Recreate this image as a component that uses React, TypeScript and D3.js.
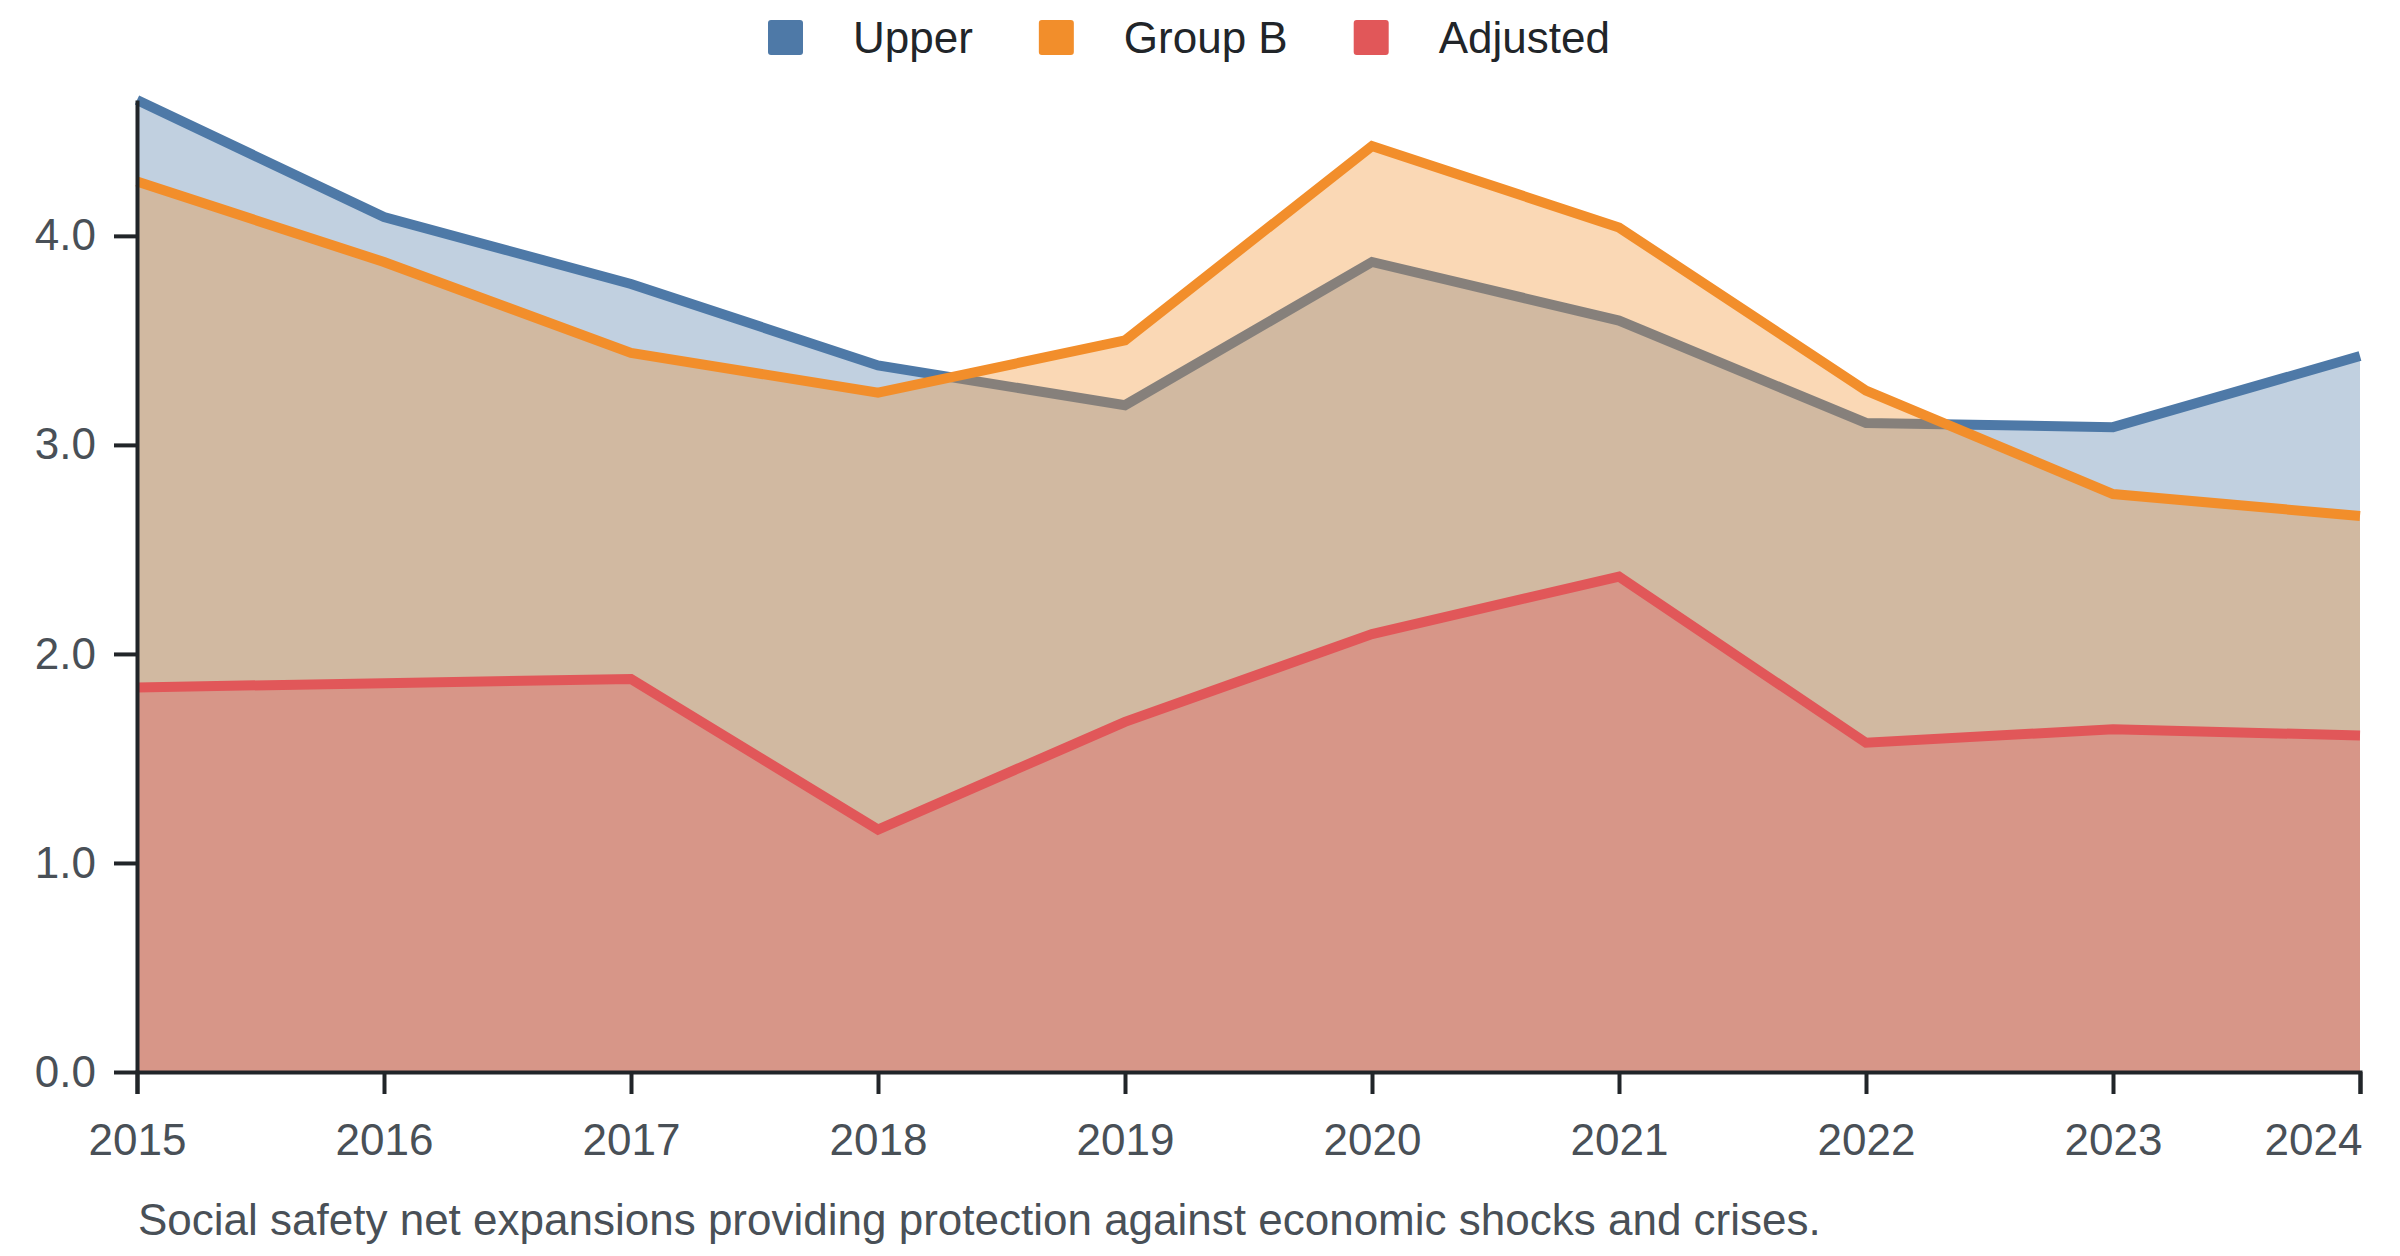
import React, { useEffect, useRef } from "react";
import * as d3 from "d3";

const years = [2015, 2016, 2017, 2018, 2019, 2020, 2021, 2022, 2023, 2024];
const upper = [4.65, 4.09, 3.77, 3.38, 3.19, 3.875, 3.595, 3.105, 3.085, 3.425];
const groupB = [4.26, 3.875, 3.44, 3.25, 3.5, 4.43, 4.04, 3.26, 2.765, 2.66];
const adjusted = [1.84, 1.86, 1.88, 1.16, 1.675, 2.095, 2.37, 1.575, 1.64, 1.61];
const seriesNames = ["Upper", "Group B", "Adjusted"];
const seriesColors = ["#4e79a7", "#f28e2b", "#e15759"];
const yTicks = [0, 1, 2, 3, 4];
const subtitle = "Social safety net expansions providing protection against economic shocks and crises.";

const W = 2400;
const H = 1256;
const M = { top: 100, right: 40, bottom: 184, left: 137 };
const FONT = "'Liberation Sans', Arial, sans-serif";
const FS = 44;

export default function App() {
  const ref = useRef<SVGSVGElement | null>(null);

  useEffect(() => {
    const svg = d3.select(ref.current);
    svg.selectAll("*").remove();

    const allSeries = [upper, groupB, adjusted];
    const maxV = d3.max(allSeries.flat()) as number;

    const x = d3.scaleLinear().domain([years[0], years[years.length - 1]]).range([M.left, W - M.right]);
    const y = d3.scaleLinear().domain([0, maxV]).range([H - M.bottom, M.top]);

    const g = svg.append("g");

    allSeries.forEach((vals, i) => {
      const pts = years.map((yr, j) => [yr, vals[j]] as [number, number]);
      const area = d3.area<[number, number]>().x((d) => x(d[0])).y0(y(0)).y1((d) => y(d[1]));
      const line = d3.line<[number, number]>().x((d) => x(d[0])).y((d) => y(d[1]));
      g.append("path").attr("d", area(pts)).attr("fill", seriesColors[i]).attr("fill-opacity", 0.35);
      g.append("path")
        .attr("d", line(pts))
        .attr("fill", "none")
        .attr("stroke", seriesColors[i])
        .attr("stroke-width", 10);
    });

    // x axis
    const xAxis = d3
      .axisBottom(x)
      .tickValues(years)
      .tickFormat((d) => String(d))
      .tickSize(22)
      .tickSizeOuter(22)
      .tickPadding(30);
    const gx = svg.append("g").attr("transform", `translate(0,${H - M.bottom})`).call(xAxis);
    gx.select(".domain").attr("stroke", "#212529").attr("stroke-width", 4);
    gx.selectAll(".tick line").attr("stroke", "#212529").attr("stroke-width", 4);
    gx.selectAll<SVGTextElement, number>(".tick text")
      .attr("fill", "#495057")
      .attr("text-anchor", (d) => (d === years[years.length - 1] ? "end" : "middle"))
      .attr("dx", (d) => (d === years[years.length - 1] ? 2 : 0))
      .style("font-family", FONT)
      .style("font-size", `${FS}px`);

    // y axis
    const yAxis = d3
      .axisLeft(y)
      .tickValues(yTicks)
      .tickFormat((d) => d3.format(".1f")(d as number))
      .tickSize(23)
      .tickSizeOuter(0)
      .tickPadding(18);
    const gy = svg.append("g").attr("transform", `translate(${M.left},0)`).call(yAxis);
    gy.select(".domain").attr("stroke", "#212529").attr("stroke-width", 4);
    gy.selectAll(".tick line").attr("stroke", "#212529").attr("stroke-width", 4);
    gy.selectAll(".tick text")
      .attr("fill", "#495057")
      .style("font-family", FONT)
      .style("font-size", `${FS}px`);

    // legend
    const canvas = document.createElement("canvas");
    const ctx = canvas.getContext("2d") as CanvasRenderingContext2D;
    ctx.font = `${FS}px ${FONT}`;
    let lx = 768;
    const leg = svg.append("g");
    seriesNames.forEach((name, i) => {
      leg.append("rect").attr("x", lx).attr("y", 20).attr("width", 35).attr("height", 35).attr("rx", 3).attr("fill", seriesColors[i]);
      leg
        .append("text")
        .attr("x", lx + 85)
        .attr("y", 53)
        .attr("fill", "#212529")
        .style("font-family", FONT)
        .style("font-size", `${FS}px`)
        .text(name);
      lx += 85 + ctx.measureText(name).width + 66;
    });

    // subtitle
    svg
      .append("text")
      .attr("x", M.left + 1)
      .attr("y", 1235)
      .attr("fill", "#495057")
      .style("font-family", FONT)
      .style("font-size", `${FS}px`)
      .text(subtitle);
  }, []);

  return (
    <svg
      ref={ref}
      width={W}
      height={H}
      style={{ position: "absolute", left: 0, top: 0, background: "#fff" }}
    />
  );
}
